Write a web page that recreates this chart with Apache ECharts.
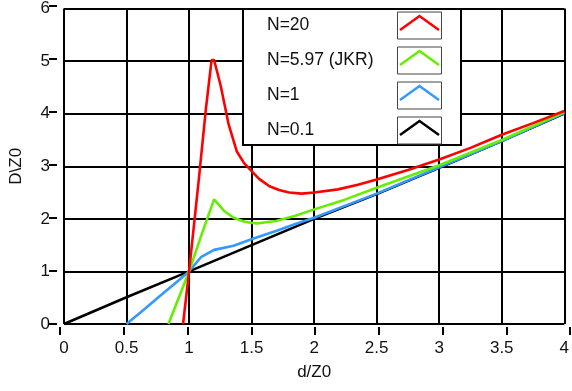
<!DOCTYPE html>
<html>
<head>
<meta charset="utf-8">
<script src="https://cdn.jsdelivr.net/npm/echarts@6/dist/echarts.min.js"></script>
<style>html,body{margin:0;padding:0;background:#fff}#c{width:572px;height:391px}</style>
</head>
<body>
<div id="c"></div>
<script>
// ---- data ----
var xTicks = [0, 0.5, 1, 1.5, 2, 2.5, 3, 3.5, 4];
var yTicks = [0, 1, 2, 3, 4, 5, 6];
var seriesNames = ['N=20', 'N=5.97 (JKR)', 'N=1', 'N=0.1'];
var n20 = [[0.952,0],[1.0,1.0],[1.04,1.9],[1.08,2.8],[1.135,4.1],[1.18,5.02],[1.2,5.02],[1.252,4.54],[1.317,3.79],[1.382,3.28],[1.44,3.06],[1.487,2.94],[1.56,2.76],[1.643,2.62],[1.72,2.55],[1.8,2.5],[1.9,2.48],[2.0,2.5],[2.19,2.56],[2.35,2.65],[2.5,2.75],[2.75,2.93],[3.0,3.13],[3.25,3.35],[3.5,3.6],[3.75,3.82],[4.0,4.05]];
var n597 = [[0.835,0],[1.0,1.0],[1.1,1.7],[1.2,2.37],[1.28,2.15],[1.356,2.02],[1.45,1.94],[1.54,1.91],[1.695,1.96],[1.85,2.06],[2.0,2.18],[2.24,2.36],[2.5,2.59],[3.0,3.02],[3.5,3.5],[4.0,4.03]];
var n1 = [[0.5,0],[0.652,0.3],[0.757,0.515],[0.887,0.77],[1.0,1.0],[1.095,1.27],[1.2,1.41],[1.356,1.49],[1.51,1.62],[1.695,1.77],[1.85,1.9],[2.0,2.02],[2.5,2.48],[3.0,2.98],[3.5,3.48],[4.0,4.01]];
var n01 = [[0,0],[0.5,0.51],[1.0,1.0],[1.5,1.5],[2.0,2.0],[2.5,2.47],[3.0,2.97],[3.5,3.48],[4.0,4.0]];
var colors = ['#ff0000', '#66ee00', '#3399ff', '#000000'];

(function () {
  var chart = echarts.init(document.getElementById('c'), null, {renderer: 'canvas'});
  var FONT = 'Liberation Sans';
  var datasets = [n20, n597, n1, n01];
  var XMIN = xTicks[0], XMAX = xTicks[xTicks.length - 1];
  var YMIN = yTicks[0], YMAX = yTicks[yTicks.length - 1];

  var legendEls = [{
    type: 'rect', shape: {x: 243, y: 9, width: 218, height: 136},
    style: {fill: '#fff', stroke: '#000', lineWidth: 2}, z: 100
  }];
  for (var i = 0; i < seriesNames.length; i++) {
    var cy = 25.5 + i * 35;
    var bt = cy - 13.5;
    legendEls.push({
      type: 'text', x: 267, y: cy, z: 101,
      style: {text: seriesNames[i], font: '17.5px "' + FONT + '"', fill: '#111', verticalAlign: 'middle'}
    });
    legendEls.push({
      type: 'rect', shape: {x: 397.5, y: bt, width: 44, height: 27}, z: 101,
      style: {fill: '#fff', stroke: '#444', lineWidth: 1}
    });
    legendEls.push({
      type: 'polyline', z: 102,
      shape: {points: [[400, bt + 18], [419.5, bt + 4], [439, bt + 18]]},
      style: {stroke: colors[i], lineWidth: 2.5, fill: null}
    });
  }

  var hidden = {axisLine: {show: false}, axisTick: {show: false}, axisLabel: {show: false}};
  function blank(extra) { return Object.assign({}, hidden, extra); }
  var tickLine = {show: true, lineStyle: {color: '#000', width: 2}};

  var option = {
    animation: false,
    backgroundColor: '#fff',
    grid: [
      {left: 60, right: 2, top: 6, bottom: 67},
      {left: 60, right: 2, top: 327, height: 8},   // strip holding the x tick marks
      {left: 49, width: 8, top: 6, bottom: 67}      // strip holding the y tick marks
    ],
    xAxis: [{
      type: 'value', min: XMIN, max: XMAX, interval: 0.5, offset: 3,
      name: 'd/Z0', nameLocation: 'middle', nameGap: 37,
      nameTextStyle: {fontFamily: FONT, fontSize: 17, color: '#111'},
      axisLine: {show: false}, axisTick: {show: false},
      axisLabel: {margin: 13, fontFamily: FONT, fontSize: 17, color: '#111'},
      splitLine: {show: true, lineStyle: {color: '#000', width: 2}}
    },
    blank({type: 'value', gridIndex: 1, min: XMIN, max: XMAX, interval: 0.5, splitLine: tickLine}),
    blank({type: 'value', gridIndex: 2, min: 0, max: 1, splitLine: {show: false}})],
    yAxis: [{
      type: 'value', min: YMIN, max: YMAX, interval: 1, offset: 3,
      name: 'D\\Z0', nameLocation: 'middle', nameGap: 36, nameRotate: 90,
      nameTextStyle: {fontFamily: FONT, fontSize: 17, color: '#111'},
      axisLine: {show: false}, axisTick: {show: false},
      axisLabel: {margin: 11, fontFamily: FONT, fontSize: 17, color: '#111'},
      splitLine: {show: true, lineStyle: {color: '#000', width: 2}}
    },
    blank({type: 'value', gridIndex: 1, min: 0, max: 1, splitLine: {show: false}}),
    blank({type: 'value', gridIndex: 2, min: YMIN, max: YMAX, interval: 1, splitLine: tickLine})],
    series: datasets.map(function (d, i) {
      return {
        type: 'line', name: seriesNames[i], data: d, showSymbol: false, symbol: 'none',
        xAxisIndex: 0, yAxisIndex: 0,
        lineStyle: {color: colors[i], width: 2.6}, z: 10 - i, clip: true
      };
    }),
    graphic: legendEls
  };
  chart.setOption(option);
})();
</script>
</body>
</html>
